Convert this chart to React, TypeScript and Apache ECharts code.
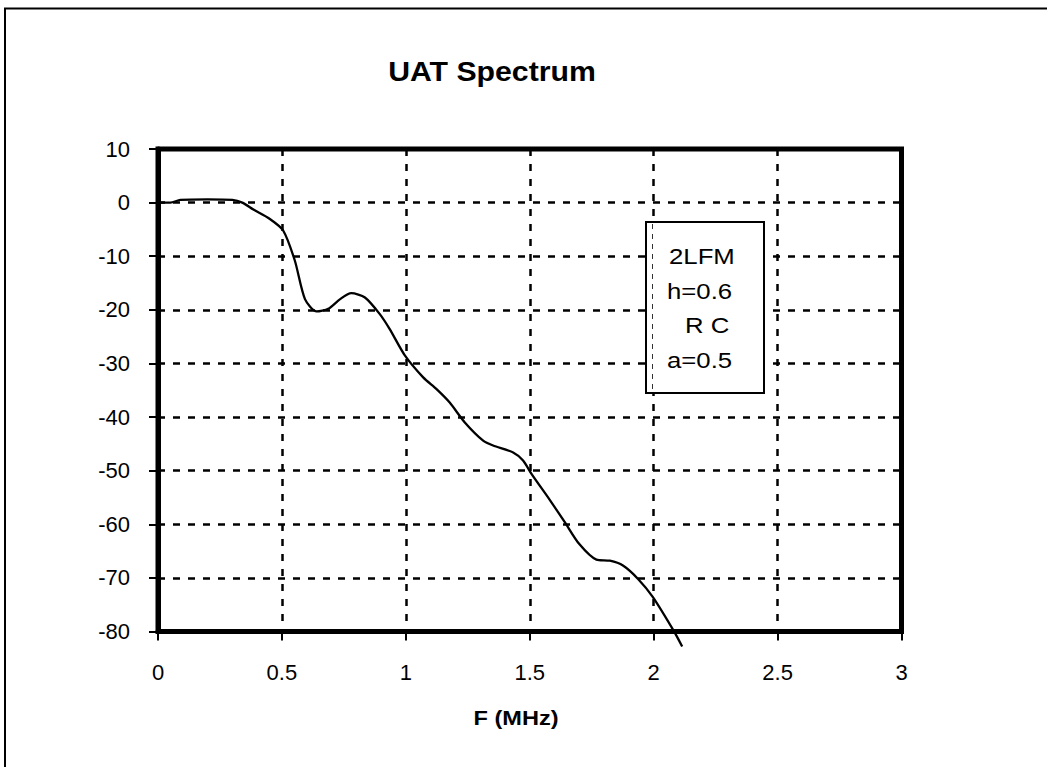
import React, { useEffect, useRef } from "react";
import * as echarts from "echarts";

const titleText = "UAT Spectrum";
const xAxisName = "F (MHz)";
const legendLines = ["2LFM", "h=0.6", "R C", "a=0.5"];

const freq = [
  0, 0.05, 0.09, 0.2, 0.3, 0.34, 0.385, 0.45, 0.505, 0.552, 0.593, 0.64, 0.687,
  0.735, 0.78, 0.835, 0.895, 0.935, 0.996, 1.07, 1.124, 1.177, 1.238, 1.312,
  1.352, 1.433, 1.473, 1.507, 1.58, 1.64, 1.7, 1.769, 1.823, 1.876, 1.937,
  1.997, 2.085, 2.115,
];
const level = [
  0, 0, 0.5, 0.6, 0.5, 0.0, -1.3, -3.0, -5.2, -10.8, -18.0, -20.3, -19.8,
  -18.0, -16.9, -17.7, -20.8, -23.6, -28.5, -32.6, -34.8, -37.3, -41.0, -44.4,
  -45.3, -46.6, -48.1, -50.6, -55.4, -59.5, -63.7, -66.6, -66.8, -67.7, -70.2,
  -73.6, -80.2, -82.8,
];

const xMin = 0;
const xMax = 3;
const xStep = 0.5;
const yMin = -80;
const yMax = 10;
const yStep = 10;

export default function App() {
  const ref = useRef<HTMLDivElement>(null);
  useEffect(() => {
    if (!ref.current) return;
    const chart = echarts.init(ref.current, null, { renderer: "svg" });
    const font = "Liberation Sans, Arial, sans-serif";
    const legendY = [256, 290.5, 325.3, 360.3];
    const legendX = [669, 667, 685, 667];
    chart.setOption({
      animation: false,
      backgroundColor: "#ffffff",
      grid: {
        left: 158,
        right: 145.5,
        top: 149,
        bottom: 135.5,
        show: true,
        borderColor: "#000",
        borderWidth: 5,
        backgroundColor: "transparent",
        z: 3,
      },
      xAxis: {
        type: "value",
        min: xMin,
        max: xMax,
        interval: xStep,
        axisLine: { show: true, onZero: false, lineStyle: { color: "#000", width: 5 } },
        axisTick: { show: true, length: 9, lineStyle: { color: "#000", width: 2 } },
        axisLabel: { color: "#000", fontSize: 22, fontFamily: font, margin: 30 },
        splitLine: {
          show: true,
          lineStyle: { color: "#000", width: 2.5, type: [7, 8] },
        },
      },
      yAxis: {
        type: "value",
        min: yMin,
        max: yMax,
        interval: yStep,
        axisLine: { show: true, onZero: false, lineStyle: { color: "#000", width: 5 } },
        axisTick: { show: true, length: 9, lineStyle: { color: "#000", width: 2 } },
        axisLabel: { color: "#000", fontSize: 22, fontFamily: font, margin: 28 },
        splitLine: {
          show: true,
          lineStyle: { color: "#000", width: 2.5, type: [7, 8] },
        },
      },
      series: [
        {
          type: "line",
          data: freq.map((f, i) => [f, level[i]]),
          showSymbol: false,
          smooth: 0.25,
          clip: false,
          lineStyle: { color: "#000", width: 2.3 },
          z: 4,
        },
      ],
      graphic: [
        {
          type: "rect",
          shape: { x: 5, y: 8.5, width: 1200, height: 1000 },
          style: { fill: "none", stroke: "#000", lineWidth: 2 },
          silent: true,
          z: 1,
        },
        {
          type: "text",
          x: 492,
          y: 72,
          scaleX: 1.12,
          style: {
            text: titleText,
            font: `bold 27px ${font}`,
            fill: "#000",
            textAlign: "center",
            textVerticalAlign: "middle",
          },
          z: 10,
        },
        {
          type: "text",
          x: 516,
          y: 718,
          scaleX: 1.15,
          style: {
            text: xAxisName,
            font: `bold 20.5px ${font}`,
            fill: "#000",
            textAlign: "center",
            textVerticalAlign: "middle",
          },
          z: 10,
        },
        {
          type: "rect",
          shape: { x: 646, y: 222, width: 118, height: 171 },
          style: { fill: "#fff", stroke: "#000", lineWidth: 2 },
          z: 50,
        },
        {
          type: "line",
          shape: { x1: 652.5, y1: 224, x2: 652.5, y2: 391 },
          style: { stroke: "#333", lineWidth: 1, lineDash: [5, 5] },
          z: 51,
        },
        ...legendLines.map((t, i) => ({
          type: "text",
          x: legendX[i],
          y: legendY[i],
          scaleX: 1.12,
          style: {
            text: t,
            font: `23px ${font}`,
            fill: "#000",
            textAlign: "left",
            textVerticalAlign: "middle",
          },
          z: 52,
        })),
      ],
    });
    return () => chart.dispose();
  }, []);
  return (
    <div
      ref={ref}
      style={{ position: "absolute", left: 0, top: 0, width: 1047, height: 767, background: "#fff" }}
    />
  );
}
